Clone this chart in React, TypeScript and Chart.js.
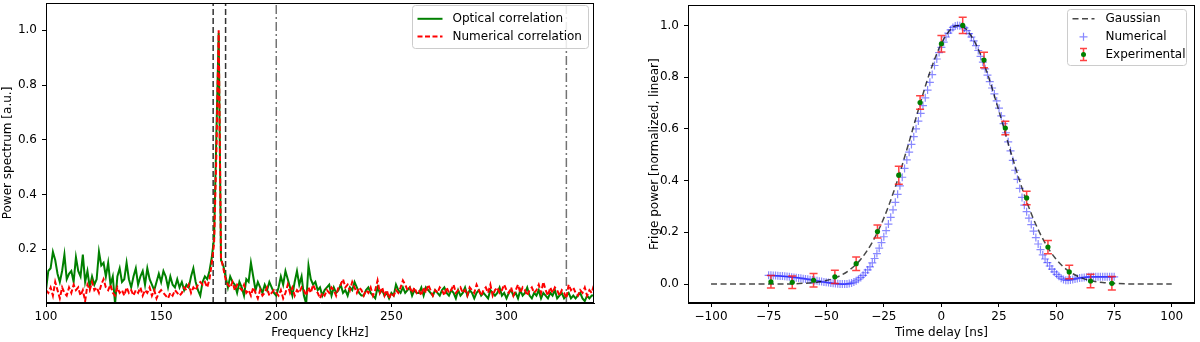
import React, { useEffect, useRef } from "react";
import { Chart, registerables } from "chart.js";

Chart.register(...registerables);

const FONT = "'DejaVu Sans', sans-serif";

// ---------- Left panel: power spectrum ----------
const FREQ_START = 100; // kHz
const FREQ_STEP = 1; // kHz
const FREQ_MIN = 100;
const FREQ_MAX = 338;
const FREQ_TICKS_STEP = 50;

const OPTICAL_CORR = [
  0.05, 0.12, 0.13, 0.19, 0.16, 0.11, 0.08, 0.12, 0.18, 0.09,
  0.11, 0.12, 0.08, 0.17, 0.12, 0.10, 0.18, 0.08, 0.12, 0.06,
  0.10, 0.07, 0.09, 0.19, 0.14, 0.15, 0.10, 0.15, 0.07, 0.10,
  0.00, 0.10, 0.13, 0.08, 0.09, 0.15, 0.09, 0.06, 0.10, 0.13,
  0.07, 0.10, 0.12, 0.07, 0.13, 0.09, 0.07, 0.05, 0.08, 0.11,
  0.08, 0.12, 0.10, 0.06, 0.10, 0.07, 0.06, 0.09, 0.06, 0.08,
  0.05, 0.07, 0.06, 0.10, 0.13, 0.08, 0.05, 0.03, 0.08, 0.10,
  0.09, 0.12, 0.17, 0.24, 0.62, 0.99, 0.16, 0.14, 0.10, 0.06,
  0.10, 0.08, 0.07, 0.04, 0.08, 0.06, 0.03, 0.09, 0.08, 0.15,
  0.10, 0.05, 0.08, 0.06, 0.04, 0.07, 0.05, 0.08, 0.06, 0.04,
  0.03, 0.06, 0.10, 0.07, 0.12, 0.09, 0.06, 0.03, 0.08, 0.12,
  0.07, 0.10, 0.03, 0.00, 0.14, 0.09, 0.07, 0.08, 0.05, 0.06,
  0.03, 0.05, 0.06, 0.07, 0.03, 0.06, 0.04, 0.05, 0.07, 0.04,
  0.05, 0.03, 0.06, 0.05, 0.08, 0.06, 0.04, 0.03, 0.03, 0.05,
  0.06, 0.04, 0.03, 0.02, 0.06, 0.04, 0.05, 0.03, 0.04, 0.02,
  0.04, 0.03, 0.07, 0.05, 0.04, 0.06, 0.04, 0.05, 0.06, 0.03,
  0.05, 0.04, 0.04, 0.06, 0.03, 0.06, 0.05, 0.04, 0.03, 0.05,
  0.04, 0.03, 0.05, 0.06, 0.04, 0.03, 0.05, 0.04, 0.02, 0.05,
  0.03, 0.04, 0.06, 0.03, 0.05, 0.04, 0.02, 0.04, 0.05, 0.03,
  0.04, 0.03, 0.02, 0.05, 0.04, 0.03, 0.04, 0.06, 0.03, 0.04,
  0.02, 0.04, 0.05, 0.03, 0.04, 0.02, 0.05, 0.03, 0.04, 0.06,
  0.03, 0.02, 0.04, 0.03, 0.05, 0.02, 0.04, 0.03, 0.02, 0.04,
  0.03, 0.05, 0.02, 0.03, 0.04, 0.02, 0.03, 0.04, 0.02, 0.03,
  0.02, 0.03, 0.04, 0.02, 0.01, 0.03, 0.02, 0.03, 0.03,
];

const NUMERICAL_CORR = [
  0.05, 0.04, 0.06, 0.03, 0.08, 0.05, 0.02, 0.06, 0.04, 0.03,
  0.06, 0.04, 0.07, 0.05, 0.06, 0.03, 0.05, 0.01, 0.07, 0.05,
  0.08, 0.05, 0.06, 0.04, 0.07, 0.09, 0.06, 0.05, 0.07, 0.04,
  0.03, 0.06, 0.04, 0.05, 0.03, 0.06, 0.04, 0.05, 0.03, 0.05,
  0.04, 0.06, 0.03, 0.05, 0.04, 0.06, 0.03, 0.05, 0.02, 0.04,
  0.05, 0.04, 0.03, 0.02, 0.04, 0.03, 0.05, 0.04, 0.03, 0.04,
  0.06, 0.05, 0.07, 0.04, 0.06, 0.05, 0.07, 0.08, 0.07, 0.08,
  0.06, 0.09, 0.15, 0.22, 0.55, 1.00, 0.17, 0.13, 0.09, 0.07,
  0.06, 0.08, 0.05, 0.07, 0.06, 0.05, 0.07, 0.04, 0.05, 0.03,
  0.06, 0.04, 0.02, 0.05, 0.03, 0.04, 0.06, 0.03, 0.04, 0.05,
  0.04, 0.03, 0.05, 0.02, 0.04, 0.07, 0.04, 0.06, 0.03, 0.05,
  0.04, 0.06, 0.05, 0.03, 0.06, 0.04, 0.07, 0.05, 0.04, 0.02,
  0.04, 0.03, 0.05, 0.04, 0.06, 0.05, 0.03, 0.06, 0.07, 0.09,
  0.06, 0.07, 0.05, 0.08, 0.06, 0.04, 0.06, 0.05, 0.03, 0.05,
  0.04, 0.06, 0.03, 0.05, 0.085, 0.04, 0.06, 0.03, 0.05, 0.02,
  0.04, 0.03, 0.05, 0.04, 0.06, 0.085, 0.07, 0.05, 0.06, 0.04,
  0.06, 0.04, 0.05, 0.03, 0.06, 0.04, 0.07, 0.05, 0.03, 0.05,
  0.04, 0.06, 0.05, 0.03, 0.06, 0.04, 0.05, 0.07, 0.04, 0.05,
  0.06, 0.04, 0.05, 0.03, 0.06, 0.05, 0.04, 0.07, 0.05, 0.03,
  0.05, 0.06, 0.04, 0.07, 0.03, 0.05, 0.06, 0.04, 0.05, 0.07,
  0.05, 0.04, 0.06, 0.03, 0.05, 0.07, 0.04, 0.06, 0.05, 0.03,
  0.05, 0.06, 0.04, 0.05, 0.07, 0.04, 0.08, 0.05, 0.03, 0.06,
  0.04, 0.06, 0.05, 0.03, 0.05, 0.04, 0.02, 0.07, 0.05, 0.06,
  0.04, 0.03, 0.05, 0.04, 0.06, 0.03, 0.05, 0.04, 0.07,
];

const DASHED_MARKERS = [172.6, 178]; // kHz
const DASHDOT_MARKERS = [200, 326]; // kHz
const SPEC_Y_MIN = 0.003;
const SPEC_Y_MAX = 1.1;

// ---------- Right panel: fringe power vs delay ----------
const DELAY_MIN = -110;
const DELAY_MAX = 110;
const POWER_MIN = -0.073;
const POWER_MAX = 1.078;

const EXP_DELAY = [-74, -64.75, -55.5, -46.25, -37, -27.75, -18.5, -9.25, 0, 9.25, 18.5, 27.75, 37, 46.25, 55.5, 64.75, 74];
const EXP_POWER = [0.009, 0.007, 0.015, 0.028, 0.079, 0.203, 0.421, 0.702, 0.929, 1.0, 0.866, 0.603, 0.333, 0.143, 0.047, 0.012, 0.003];
const EXP_ERR = [0.024, 0.024, 0.026, 0.026, 0.026, 0.025, 0.035, 0.026, 0.032, 0.031, 0.03, 0.026, 0.026, 0.026, 0.026, 0.026, 0.026];

const GAUSS_DELAY = [-100, -90, -80, -70, -65, -60, -55, -50, -45, -40, -35, -30, -25, -20, -15, -10, -5, 0, 5, 7.5, 10, 15, 20, 25, 30, 35, 40, 45, 50, 55, 60, 65, 70, 75, 80, 90, 100];
const GAUSS_POWER = [0, 0, 0, 0, 0.001, 0.003, 0.006, 0.014, 0.028, 0.054, 0.096, 0.162, 0.255, 0.376, 0.52, 0.674, 0.819, 0.93, 0.993, 1.0, 0.991, 0.927, 0.813, 0.668, 0.514, 0.371, 0.251, 0.159, 0.094, 0.052, 0.027, 0.013, 0.006, 0.003, 0.001, 0, 0];

const NUM_DELAY_START = -75; // ns
const NUM_DELAY_STEP = 1; // ns
const NUM_POWER = [
  0.034, 0.034, 0.033, 0.033, 0.032, 0.031, 0.031, 0.030, 0.029, 0.028,
  0.027, 0.026, 0.025, 0.024, 0.023, 0.021, 0.020, 0.019, 0.017, 0.016,
  0.014, 0.013, 0.011, 0.010, 0.008, 0.007, 0.006, 0.004, 0.003, 0.002,
  0.001, 0.000, 0.000, 0.000, 0.000, 0.002, 0.004, 0.008, 0.013, 0.019,
  0.026, 0.034, 0.044, 0.055, 0.067, 0.082, 0.099, 0.118, 0.139, 0.160,
  0.183, 0.207, 0.232, 0.258, 0.287, 0.316, 0.347, 0.380, 0.413, 0.447,
  0.48, 0.51, 0.54, 0.57, 0.60, 0.63, 0.66, 0.69, 0.72, 0.75,
  0.78, 0.81, 0.845, 0.87, 0.895, 0.915, 0.935, 0.955, 0.97, 0.983,
  0.992, 0.998, 1.0, 0.999, 0.996, 0.99, 0.98, 0.968, 0.955, 0.94,
  0.922, 0.903, 0.88, 0.858, 0.832, 0.808, 0.783, 0.758, 0.735, 0.708,
  0.68, 0.65, 0.62, 0.585, 0.55, 0.515, 0.478, 0.44, 0.405, 0.37,
  0.335, 0.305, 0.28, 0.255, 0.23, 0.205, 0.18, 0.155, 0.133, 0.113,
  0.097, 0.083, 0.07, 0.058, 0.047, 0.038, 0.030, 0.023, 0.018, 0.015,
  0.015, 0.016, 0.018, 0.020, 0.022, 0.024, 0.025, 0.026, 0.027, 0.028,
  0.028, 0.028, 0.028, 0.028, 0.028, 0.028, 0.028, 0.028, 0.028, 0.028, 0.028,
];

// ---------- helpers ----------
const GREEN = "#008000";
const RED = "#ff0000";
const BLUE_MARK = "rgba(20,20,255,0.5)";
const ERR_RED = "rgba(255,20,20,0.8)";

type LegendItem = { label: string; kind: "line" | "cross" | "errorbar"; color?: string; dash?: number[]; width?: number; dy: number };
type LegendBox = { rightOff: number; topOff: number; w: number; h: number; sx1: number; sx2: number; tx: number; items: LegendItem[] };

function roundRectPath(ctx: CanvasRenderingContext2D, x: number, y: number, w: number, h: number, r: number) {
  ctx.beginPath();
  ctx.moveTo(x + r, y);
  ctx.lineTo(x + w - r, y);
  ctx.quadraticCurveTo(x + w, y, x + w, y + r);
  ctx.lineTo(x + w, y + h - r);
  ctx.quadraticCurveTo(x + w, y + h, x + w - r, y + h);
  ctx.lineTo(x + r, y + h);
  ctx.quadraticCurveTo(x, y + h, x, y + h - r);
  ctx.lineTo(x, y + r);
  ctx.quadraticCurveTo(x, y, x + r, y);
  ctx.closePath();
}

function makeLegendPlugin(box: LegendBox) {
  return {
    id: "mplLegend",
    afterDraw(chart: any) {
      const ctx: CanvasRenderingContext2D = chart.ctx;
      const ca = chart.chartArea;
      const x0 = Math.round(ca.right - box.rightOff - box.w) + 0.5;
      const y0 = Math.round(ca.top + box.topOff) + 0.5;
      ctx.save();
      roundRectPath(ctx, x0, y0, box.w, box.h, 3);
      ctx.fillStyle = "rgba(255,255,255,0.85)";
      ctx.fill();
      ctx.strokeStyle = "#cccccc";
      ctx.lineWidth = 1;
      ctx.stroke();
      ctx.font = `12px ${FONT}`;
      ctx.textBaseline = "middle";
      ctx.textAlign = "left";
      for (const it of box.items) {
        const cy = y0 + it.dy;
        const mx = x0 + (box.sx1 + box.sx2) / 2;
        if (it.kind === "line") {
          ctx.beginPath();
          ctx.setLineDash(it.dash || []);
          ctx.strokeStyle = it.color || "#000";
          ctx.lineWidth = it.width || 1.5;
          ctx.moveTo(x0 + box.sx1, cy);
          ctx.lineTo(x0 + box.sx2, cy);
          ctx.stroke();
          ctx.setLineDash([]);
        } else if (it.kind === "cross") {
          ctx.beginPath();
          ctx.strokeStyle = BLUE_MARK;
          ctx.lineWidth = 1.2;
          ctx.moveTo(mx - 4, cy);
          ctx.lineTo(mx + 4, cy);
          ctx.moveTo(mx, cy - 4);
          ctx.lineTo(mx, cy + 4);
          ctx.stroke();
        } else {
          ctx.beginPath();
          ctx.strokeStyle = ERR_RED;
          ctx.lineWidth = 1.5;
          ctx.moveTo(mx, cy - 6);
          ctx.lineTo(mx, cy + 6);
          ctx.moveTo(mx - 3.5, cy - 6);
          ctx.lineTo(mx + 3.5, cy - 6);
          ctx.moveTo(mx - 3.5, cy + 6);
          ctx.lineTo(mx + 3.5, cy + 6);
          ctx.stroke();
          ctx.beginPath();
          ctx.fillStyle = GREEN;
          ctx.arc(mx, cy, 2.5, 0, Math.PI * 2);
          ctx.fill();
        }
        ctx.fillStyle = "#000";
        ctx.fillText(it.label, x0 + box.tx, cy + 0.5);
      }
      ctx.restore();
    },
  };
}

const framePlugin = {
  id: "frame",
  afterDraw(chart: any) {
    const { ctx, chartArea } = chart;
    const l = Math.round(chartArea.left) + 0.5;
    const t = Math.round(chartArea.top) + 0.5;
    const r = Math.round(chartArea.right) - 0.5;
    const b = Math.round(chartArea.bottom) - 0.5;
    ctx.save();
    ctx.strokeStyle = "#000";
    ctx.lineWidth = 1;
    ctx.setLineDash([]);
    ctx.strokeRect(l, t, r - l, b - t);
    ctx.restore();
  },
};

const errorBarPlugin = {
  id: "errorBars",
  beforeDatasetDraw(chart: any, args: any) {
    if (args.index !== 0) return;
    const xs = chart.scales.x;
    const ys = chart.scales.y;
    const ctx: CanvasRenderingContext2D = chart.ctx;
    ctx.save();
    ctx.strokeStyle = ERR_RED;
    ctx.lineWidth = 1.5;
    EXP_DELAY.forEach((d, i) => {
      const px = xs.getPixelForValue(d);
      const top = ys.getPixelForValue(EXP_POWER[i] + EXP_ERR[i]);
      const bot = ys.getPixelForValue(EXP_POWER[i] - EXP_ERR[i]);
      ctx.beginPath();
      ctx.moveTo(px, top);
      ctx.lineTo(px, bot);
      ctx.moveTo(px - 4, top);
      ctx.lineTo(px + 4, top);
      ctx.moveTo(px - 4, bot);
      ctx.lineTo(px + 4, bot);
      ctx.stroke();
    });
    ctx.restore();
  },
};

const fmtNum = (v: number, digits: number) => {
  const s = Math.abs(v).toFixed(digits);
  return v < 0 ? "\u2212" + s : s;
};

function axisCommon() {
  return {
    grid: { display: true, drawOnChartArea: false, drawTicks: true, tickLength: 4, tickColor: "#000", tickWidth: 1 },
    border: { display: true, color: "#000", width: 1 },
  };
}

const fitX = (s: any) => {
  s.height = 39;
  s.paddingLeft = 0;
  s.paddingRight = 0;
  s.paddingTop = 0;
  s.paddingBottom = 0;
};
const fitY = (w: number) => (s: any) => {
  s.width = w;
  s.paddingLeft = 0;
  s.paddingRight = 0;
  s.paddingTop = 0;
  s.paddingBottom = 0;
};

function leftConfig(): any {
  const optical = OPTICAL_CORR.map((y, i) => ({ x: FREQ_START + i * FREQ_STEP, y }));
  const numerical = NUMERICAL_CORR.map((y, i) => ({ x: FREQ_START + i * FREQ_STEP, y }));
  const vline = (v: number, dash: number[], color: string) => ({
    label: "_v" + v,
    data: [{ x: v, y: SPEC_Y_MIN }, { x: v, y: SPEC_Y_MAX }],
    borderColor: color,
    borderWidth: 1.5,
    borderDash: dash,
    pointRadius: 0,
    tension: 0,
  });
  return {
    type: "line",
    data: {
      datasets: [
        { label: "Numerical correlation", data: numerical, borderColor: RED, borderWidth: 2, borderDash: [5, 2.5], pointRadius: 0, tension: 0 },
        { label: "Optical correlation", data: optical, borderColor: GREEN, borderWidth: 2, pointRadius: 0, tension: 0 },
        ...DASHED_MARKERS.map((v) => vline(v, [6, 3], "rgba(0,0,0,0.8)")),
        ...DASHDOT_MARKERS.map((v) => vline(v, [9, 3, 2, 3], "rgba(0,0,0,0.55)")),
      ],
    },
    options: {
      responsive: false,
      animation: false,
      events: [],
      devicePixelRatio: 1,
      layout: { padding: { left: 0, right: 6, top: 3, bottom: 0 } },
      plugins: { legend: { display: false }, tooltip: { enabled: false } },
      scales: {
        x: {
          type: "linear",
          min: FREQ_MIN,
          max: FREQ_MAX,
          ...axisCommon(),
          ticks: { stepSize: FREQ_TICKS_STEP, includeBounds: false, padding: 3, color: "#000", font: { family: FONT, size: 12 }, maxRotation: 0, callback: (v: number) => String(v) },
          title: { display: true, text: "Frequency [kHz]", color: "#000", font: { family: FONT, size: 12 }, padding: { top: 0, bottom: 2 } },
          afterFit: fitX,
        },
        y: {
          type: "linear",
          min: SPEC_Y_MIN,
          max: SPEC_Y_MAX,
          ...axisCommon(),
          ticks: { stepSize: 0.2, includeBounds: false, padding: 5, color: "#000", font: { family: FONT, size: 12 }, callback: (v: number) => fmtNum(v, 1) },
          title: { display: true, text: "Power spectrum [a.u.]", color: "#000", font: { family: FONT, size: 12 }, padding: { top: 1, bottom: 0 } },
          afterFit: fitY(46),
        },
      },
    },
    plugins: [
      framePlugin,
      makeLegendPlugin({
        rightOff: 6, topOff: 2, w: 176, h: 43, sx1: 5, sx2: 30, tx: 40,
        items: [
          { label: "Optical correlation", kind: "line", color: GREEN, width: 2, dy: 13.3 },
          { label: "Numerical correlation", kind: "line", color: RED, width: 2, dash: [5, 2.5], dy: 31 },
        ],
      }),
    ],
  };
}

function rightConfig(): any {
  const exp = EXP_DELAY.map((x, i) => ({ x, y: EXP_POWER[i] }));
  const gauss = GAUSS_DELAY.map((x, i) => ({ x, y: GAUSS_POWER[i] }));
  const num = NUM_POWER.map((y, i) => ({ x: NUM_DELAY_START + i * NUM_DELAY_STEP, y }));
  return {
    type: "scatter",
    data: {
      datasets: [
        { label: "Experimental", data: exp, pointStyle: "circle", pointRadius: 2.6, backgroundColor: GREEN, borderColor: GREEN, borderWidth: 0, showLine: false },
        { label: "Gaussian", type: "line", data: gauss, borderColor: "rgba(0,0,0,0.72)", borderWidth: 1.5, borderDash: [6, 3.5], pointRadius: 0, cubicInterpolationMode: "monotone", showLine: true },
        { label: "Numerical", data: num, pointStyle: "cross", pointRadius: 4, borderColor: BLUE_MARK, backgroundColor: BLUE_MARK, borderWidth: 1.2, showLine: false },
      ],
    },
    options: {
      responsive: false,
      animation: false,
      events: [],
      devicePixelRatio: 1,
      layout: { padding: { left: 47, right: 2, top: 3, bottom: 0 } },
      plugins: { legend: { display: false }, tooltip: { enabled: false } },
      scales: {
        x: {
          type: "linear",
          min: DELAY_MIN,
          max: DELAY_MAX,
          ...axisCommon(),
          ticks: { stepSize: 25, includeBounds: false, padding: 3, color: "#000", font: { family: FONT, size: 12 }, maxRotation: 0, callback: (v: number) => fmtNum(v, 0) },
          title: { display: true, text: "Time delay [ns]", color: "#000", font: { family: FONT, size: 12 }, padding: { top: 0, bottom: 2 } },
          afterFit: fitX,
        },
        y: {
          type: "linear",
          min: POWER_MIN,
          max: POWER_MAX,
          ...axisCommon(),
          ticks: { stepSize: 0.2, includeBounds: false, padding: 5, color: "#000", font: { family: FONT, size: 12 }, callback: (v: number) => fmtNum(v, 1) },
          title: { display: true, text: "Frige power [normalized, linear]", color: "#000", font: { family: FONT, size: 12 }, padding: { top: 1, bottom: 0 } },
          afterFit: fitY(41),
        },
      },
    },
    plugins: [
      errorBarPlugin,
      framePlugin,
      makeLegendPlugin({
        rightOff: 9, topOff: 3.7, w: 119, h: 56, sx1: 5, sx2: 27, tx: 38,
        items: [
          { label: "Gaussian", kind: "line", color: "rgba(0,0,0,0.72)", width: 1.5, dash: [6, 3.5], dy: 9.3 },
          { label: "Numerical", kind: "cross", dy: 27.3 },
          { label: "Experimental", kind: "errorbar", dy: 45 },
        ],
      }),
    ],
  };
}

export default function App() {
  const leftRef = useRef<HTMLCanvasElement>(null);
  const rightRef = useRef<HTMLCanvasElement>(null);

  useEffect(() => {
    Chart.defaults.font.family = FONT;
    Chart.defaults.color = "#000";
    const c1 = new Chart(leftRef.current as HTMLCanvasElement, leftConfig());
    const c2 = new Chart(rightRef.current as HTMLCanvasElement, rightConfig());
    return () => {
      c1.destroy();
      c2.destroy();
    };
  }, []);

  return (
    <div style={{ position: "fixed", left: 0, top: 0, width: 1200, height: 342, background: "#fff" }}>
      <div style={{ position: "absolute", left: 0, top: 0, width: 600, height: 342 }}>
        <canvas ref={leftRef} width={600} height={342} style={{ display: "block", width: 600, height: 342 }} />
      </div>
      <div style={{ position: "absolute", left: 600, top: 0, width: 600, height: 342 }}>
        <canvas ref={rightRef} width={600} height={342} style={{ display: "block", width: 600, height: 342 }} />
      </div>
    </div>
  );
}
